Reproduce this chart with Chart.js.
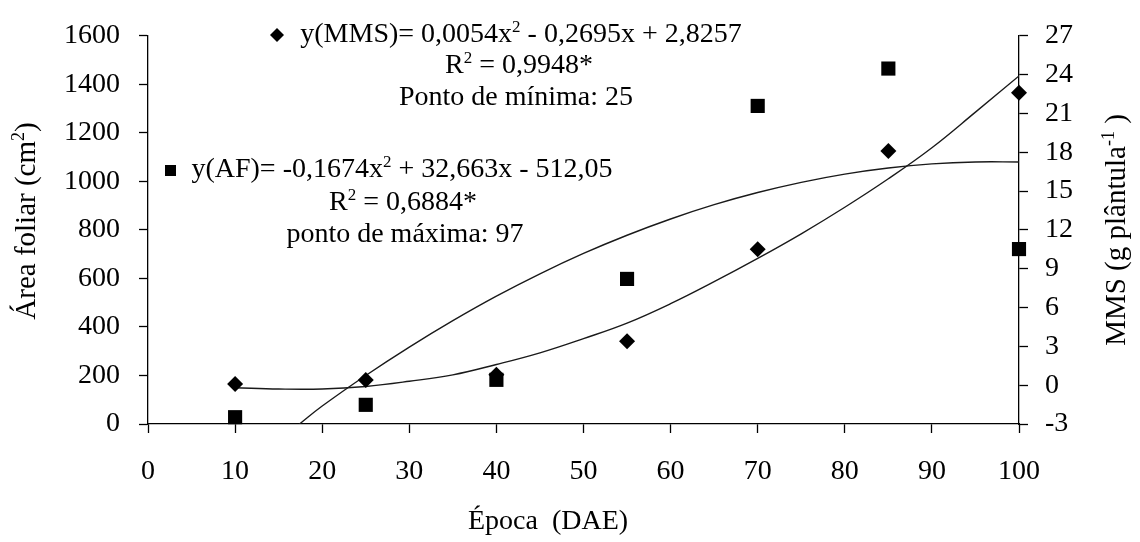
<!DOCTYPE html>
<html><head><meta charset="utf-8">
<script src="https://cdn.jsdelivr.net/npm/chart.js"></script>
<style>html,body{margin:0;padding:0;background:#fff}#wrap{width:1140px;height:542px;position:relative}</style>
</head><body><div id="wrap"><canvas id="c"></canvas></div>
<script>
// Data
const epocas = [10, 25, 40, 55, 70, 85, 100];
const areaFoliar = [28, 79, 182, 598, 1311, 1465, 721];          // squares, left axis (cm²)
const mms = [0.1, 0.4, 0.8, 3.4, 10.5, 18.1, 22.6];               // diamonds, right axis
const curveAfX = [17.4, 20, 25, 30, 35, 40, 45, 50, 55, 60, 65, 70, 75, 80, 85, 90, 95, 100];
const curveAfY = [0, 74, 200, 317, 426, 527, 619, 703, 778, 845, 904, 954, 996, 1030, 1055, 1072, 1080, 1080];
const curveMmsX = [10, 15, 20, 25, 30, 35, 40, 45, 50, 55, 60, 65, 70, 75, 80, 85, 90, 95, 100];
const curveMmsY = [-0.2, -0.3, -0.3, -0.1, 0.3, 0.8, 1.6, 2.5, 3.6, 4.8, 6.3, 8.0, 9.8, 11.7, 13.75, 15.95, 18.35, 21.1, 23.9];
const leftTicks = {min: 0, max: 1600, step: 200};
const rightTicks = {min: -3, max: 27, step: 3};
const xTicks = {min: 0, max: 100, step: 10};

const FONT = '"Liberation Serif", "Times New Roman", serif';
const pts = (xs, ys) => xs.map((x, i) => ({x: x, y: ys[i]}));

function richWidth(ctx, parts, size) {
  let w = 0;
  parts.forEach(p => {
    ctx.font = (p[1] ? Math.round(size * 0.62) : size) + 'px ' + FONT;
    w += ctx.measureText(p[0]).width;
  });
  return w;
}
function drawRich(ctx, parts, cx, cy, size) {
  const w = richWidth(ctx, parts, size);
  let x = cx - w / 2;
  ctx.textBaseline = 'middle';
  ctx.textAlign = 'left';
  parts.forEach(p => {
    ctx.font = (p[1] ? Math.round(size * 0.62) : size) + 'px ' + FONT;
    ctx.fillText(p[0], x, p[1] ? cy - size * 0.28 : cy);
    x += ctx.measureText(p[0]).width;
  });
}

const annotPlugin = {
  id: 'annot',
  afterDraw(chart) {
    const ctx = chart.ctx;
    ctx.save();
    ctx.fillStyle = '#000';
    const S = 28;
    // MMS block
    ctx.beginPath();
    ctx.moveTo(270, 35); ctx.lineTo(277, 28); ctx.lineTo(284, 35); ctx.lineTo(277, 42); ctx.closePath(); ctx.fill();
    drawRich(ctx, [['y(MMS)= 0,0054x'], ['2', 1], [' - 0,2695x + 2,8257']], 521, 35, S);
    drawRich(ctx, [['R'], ['2', 1], [' = 0,9948*']], 519, 66, S);
    drawRich(ctx, [['Ponto de mínima: 25']], 516, 98, S);
    // AF block
    ctx.fillRect(165, 165, 11, 11);
    drawRich(ctx, [['y(AF)= -0,1674x'], ['2', 1], [' + 32,663x - 512,05']], 402, 170, S);
    drawRich(ctx, [['R'], ['2', 1], [' = 0,6884*']], 403, 203, S);
    drawRich(ctx, [['ponto de máxima: 97']], 405, 235, S);
    // Axis titles
    ctx.save();
    ctx.translate(27, 221); ctx.rotate(-Math.PI / 2);
    drawRich(ctx, [['Área foliar (cm'], ['2', 1], [')']], 0, 0, 29);
    ctx.restore();
    ctx.save();
    ctx.translate(1117, 230); ctx.rotate(-Math.PI / 2);
    drawRich(ctx, [['MMS (g plântula'], ['-1', 1], [' )']], 0, 0, 29);
    ctx.restore();
    drawRich(ctx, [['Época  (DAE)']], 548, 522, 28);
    ctx.restore();
  }
};

const tickFont = {family: FONT, size: 28};
const plain = v => String(v);
const axisCommon = {
  grid: {drawOnChartArea: false, drawTicks: true, tickLength: 9, tickColor: '#000', tickWidth: 1.3},
  border: {display: true, color: '#000', width: 1.3}
};

new Chart(document.getElementById('c'), {
  type: 'scatter',
  data: {
    datasets: [
      {label: 'AF', data: pts(epocas, areaFoliar), yAxisID: 'yL', pointStyle: 'rect', pointRadius: 10, pointHoverRadius: 10,
        backgroundColor: '#000', borderColor: '#000', borderWidth: 0, clip: false, order: 0},
      {label: 'MMS', data: pts(epocas, mms), yAxisID: 'yR', pointStyle: 'rectRot', pointRadius: 8, pointHoverRadius: 8,
        backgroundColor: '#000', borderColor: '#000', borderWidth: 0, clip: false, order: 1},
      {label: 'AF ajuste', data: pts(curveAfX, curveAfY), yAxisID: 'yL', showLine: true, pointRadius: 0,
        borderColor: '#1a1a1a', borderWidth: 1.4, tension: 0.4, fill: false, order: 2},
      {label: 'MMS ajuste', data: pts(curveMmsX, curveMmsY), yAxisID: 'yR', showLine: true, pointRadius: 0,
        borderColor: '#1a1a1a', borderWidth: 1.4, tension: 0.4, fill: false, order: 3}
    ]
  },
  options: {
    responsive: true,
    maintainAspectRatio: false,
    animation: false,
    events: [],
    layout: {padding: {top: 20, left: 0, right: 0, bottom: 0}},
    plugins: {legend: {display: false}, tooltip: {enabled: false}},
    scales: {
      x: Object.assign({type: 'linear', position: 'bottom', min: xTicks.min, max: xTicks.max,
        ticks: {stepSize: xTicks.step, font: tickFont, color: '#000', padding: 22, maxRotation: 0, autoSkip: false, callback: plain},
        afterFit(s) { s.height = 118; }}, axisCommon),
      yL: Object.assign({type: 'linear', position: 'left', min: leftTicks.min, max: leftTicks.max,
        ticks: {stepSize: leftTicks.step, font: tickFont, color: '#000', padding: 19, callback: plain},
        afterFit(s) { s.width = 148; }}, axisCommon),
      yR: Object.assign({type: 'linear', position: 'right', min: rightTicks.min, max: rightTicks.max,
        ticks: {stepSize: rightTicks.step, font: tickFont, color: '#000', padding: 17, callback: plain},
        afterFit(s) { s.width = 121; }}, axisCommon)
    }
  },
  plugins: [annotPlugin]
});
</script>
</body></html>
